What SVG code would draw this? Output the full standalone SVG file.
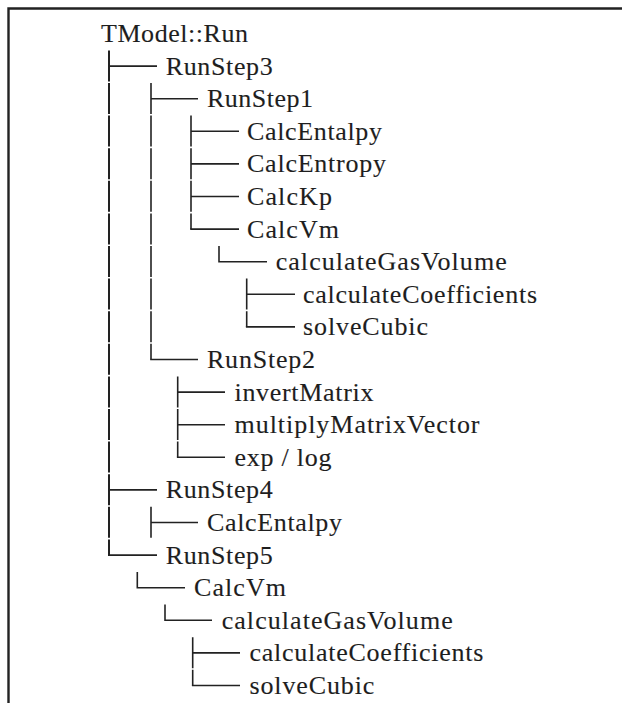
<svg xmlns="http://www.w3.org/2000/svg" width="622" height="703" viewBox="0 0 622 703">
<style>
.t{font-family:'Liberation Serif','Times New Roman',serif;font-size:26px;fill:#1e1e1e;stroke:#1e1e1e;stroke-width:0.12}
.c{fill:none;stroke:#222;stroke-width:1.6}
.v0{stroke-width:2}
.frame{fill:none;stroke:#222;stroke-width:2.4}
</style>
<rect width="622" height="703" fill="#fff"/>
<path class="frame" d="M8.5 703 V8.5 H622"/>
<g id="connectors">
<path class="c v0" stroke-dasharray="31 1.6" d="M109 50.4 V555.1"/>
<path class="c" d="M109 66.1 H157 M109 489.9 H157 M108 555.1 H157"/>
<path class="c" stroke-dasharray="31 1.6" d="M151 83 V359.5"/>
<path class="c" d="M151 98.7 H198 M150.2 359.5 H198"/>
<path class="c" stroke-dasharray="31 1.6" d="M191 115.6 V229.1"/>
<path class="c" d="M191 131.3 H239 M191 163.9 H239 M191 196.5 H239 M190.2 229.1 H239"/>
<path class="c" d="M219 246 V261.7 H267"/>
<path class="c" stroke-dasharray="31 1.6" d="M246.7 278.6 V326.9"/>
<path class="c" d="M246.7 294.3 H295 M245.9 326.9 H295"/>
<path class="c" stroke-dasharray="31 1.6" d="M177.7 376.4 V457.3"/>
<path class="c" d="M177.7 392.1 H225 M177.7 424.7 H225 M176.9 457.3 H225"/>
<path class="c" d="M151 506.8 V537.8 M151 522.5 H198"/>
<path class="c" d="M137.3 572 V587.7 H185"/>
<path class="c" d="M165 604.6 V620.3 H212"/>
<path class="c" stroke-dasharray="31 1.6" d="M192.7 637.2 V685.5"/>
<path class="c" d="M192.7 652.9 H240 M191.9 685.5 H240"/>
</g>
<g id="n0"><text class="t" x="101" y="42" textLength="147" lengthAdjust="spacing">TModel::Run</text></g>
<g id="n1"><text class="t" x="165.7" y="74.6" textLength="107" lengthAdjust="spacing">RunStep3</text></g>
<g id="n2"><text class="t" x="207" y="107.2" textLength="106" lengthAdjust="spacing">RunStep1</text></g>
<g id="n3"><text class="t" x="247" y="139.8" textLength="135" lengthAdjust="spacing">CalcEntalpy</text></g>
<g id="n4"><text class="t" x="247" y="172.4" textLength="139" lengthAdjust="spacing">CalcEntropy</text></g>
<g id="n5"><text class="t" x="247" y="205" textLength="85" lengthAdjust="spacing">CalcKp</text></g>
<g id="n6"><text class="t" x="247" y="237.6" textLength="92" lengthAdjust="spacing">CalcVm</text></g>
<g id="n7"><text class="t" x="275.7" y="270.2" textLength="231" lengthAdjust="spacing">calculateGasVolume</text></g>
<g id="n8"><text class="t" x="303" y="302.8" textLength="234" lengthAdjust="spacing">calculateCoefficients</text></g>
<g id="n9"><text class="t" x="303" y="335.4" textLength="125" lengthAdjust="spacing">solveCubic</text></g>
<g id="n10"><text class="t" x="207" y="368" textLength="108" lengthAdjust="spacing">RunStep2</text></g>
<g id="n11"><text class="t" x="234.5" y="400.6" textLength="139" lengthAdjust="spacing">invertMatrix</text></g>
<g id="n12"><text class="t" x="234.5" y="433.2" textLength="245" lengthAdjust="spacing">multiplyMatrixVector</text></g>
<g id="n13"><text class="t" x="234.5" y="465.8" textLength="97" lengthAdjust="spacing">exp / log</text></g>
<g id="n14"><text class="t" x="165.7" y="498.4" textLength="107" lengthAdjust="spacing">RunStep4</text></g>
<g id="n15"><text class="t" x="207" y="531" textLength="135" lengthAdjust="spacing">CalcEntalpy</text></g>
<g id="n16"><text class="t" x="165.7" y="563.6" textLength="107" lengthAdjust="spacing">RunStep5</text></g>
<g id="n17"><text class="t" x="194" y="596.2" textLength="92" lengthAdjust="spacing">CalcVm</text></g>
<g id="n18"><text class="t" x="221.7" y="628.8" textLength="231" lengthAdjust="spacing">calculateGasVolume</text></g>
<g id="n19"><text class="t" x="249.4" y="661.4" textLength="234" lengthAdjust="spacing">calculateCoefficients</text></g>
<g id="n20"><text class="t" x="249.4" y="694" textLength="125" lengthAdjust="spacing">solveCubic</text></g>
</svg>
